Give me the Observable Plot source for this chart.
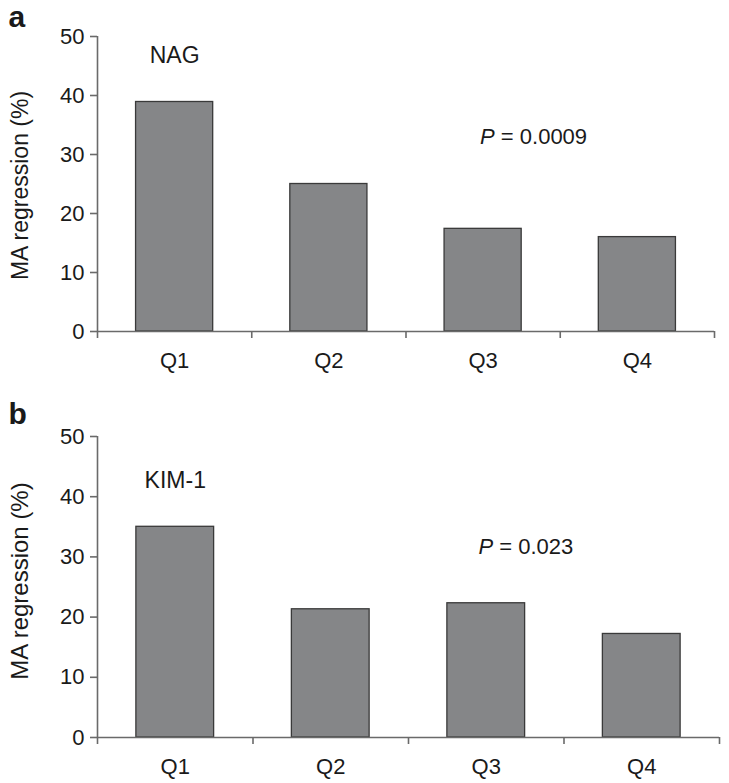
<!DOCTYPE html>
<html>
<head>
<meta charset="utf-8">
<script src="https://cdn.jsdelivr.net/npm/d3@7"></script>
<script src="https://cdn.jsdelivr.net/npm/@observablehq/plot@0.6"></script>
<style>
  html, body { margin: 0; padding: 0; background: #fff; }
  #wrap { position: relative; width: 729px; height: 783px; overflow: hidden; }
  .panel { position: absolute; left: 0; }
</style>
</head>
<body>
<div id="wrap">
  <div class="panel" id="pa" style="top:0px"></div>
  <div class="panel" id="pb" style="top:390px"></div>
</div>
<script>
// ---- data ----
const quartiles = ["Q1", "Q2", "Q3", "Q4"];
const nagValues = [38.9, 25.0, 17.4, 16.0];
const kimValues = [35.0, 21.3, 22.3, 17.2];
const yTicks = [0, 10, 20, 30, 40, 50];
const panelLetters = ["a", "b"];
const markerNames = ["NAG", "KIM-1"];
const pTexts = ["P = 0.0009", "P = 0.023"];
const yLabel = "MA regression (%)";

const FONT = "'Liberation Sans', Arial, Helvetica, sans-serif";

function panel(opts) {
  const rows = quartiles.map((q, i) => ({q, i, value: opts.values[i]}));
  const chart = Plot.plot({
    width: 729,
    height: opts.height,
    marginTop: opts.marginTop,
    marginBottom: opts.marginBottom,
    marginLeft: 97,
    marginRight: opts.marginRight,
    style: {fontFamily: FONT, fontSize: "22px", color: "#1a1a1a", background: "#fff", overflow: "visible"},
    x: {type: "linear", domain: [0, quartiles.length]},
    y: {domain: [0, 50]},
    marks: [
      Plot.rectY(rows, {
        x1: d => d.i + 0.25, x2: d => d.i + 0.75, y: "value",
        fill: "#858688", stroke: "#3a3a3a", strokeWidth: 1.3
      }),
      Plot.ruleX([0], {stroke: "#6a6a6a", strokeWidth: 1.6}),
      Plot.ruleY([0], {stroke: "#6a6a6a", strokeWidth: 1.6}),
      Plot.axisY({ticks: yTicks, tickSize: 7, tickPadding: 6, stroke: "#6a6a6a", strokeWidth: 1.6, label: null, fontSize: 22}),
      Plot.axisX({ticks: d3.range(quartiles.length + 1), tickSize: 7, tickFormat: () => "", stroke: "#6a6a6a", strokeWidth: 1.6, label: null}),
      Plot.axisX({ticks: quartiles.map((q, i) => i + 0.5), tickSize: 0, tickPadding: 21,
                  tickFormat: v => quartiles[Math.floor(v)], label: null, fontSize: 22}),
      Plot.text([markerNames[opts.k]], {x: 0.5, y: opts.markerY, lineAnchor: "bottom", fontSize: 23}),
      Plot.text([pTexts[opts.k]], {x: opts.pX, y: opts.pY, textAnchor: "start", lineAnchor: "bottom", fontSize: 22}),
      Plot.text([yLabel], {frameAnchor: "left", rotate: -90, textAnchor: "middle", lineAnchor: "middle",
                  dx: -77, dy: opts.labelDy, fontSize: opts.labelSize}),
      Plot.text([panelLetters[opts.k]], {frameAnchor: "top-left", dx: -89, dy: opts.letterDy, textAnchor: "start",
                  lineAnchor: "bottom", fontWeight: "bold", fontSize: 30})
    ]
  });
  // italic P
  d3.select(chart).selectAll("text").each(function() {
    const t = this.textContent;
    if (pTexts.includes(t)) {
      const rest = t.slice(1);
      this.textContent = "";
      d3.select(this).append("tspan").attr("font-style", "italic").text("P");
      d3.select(this).append("tspan").text(rest);
    }
  });
  return chart;
}

document.getElementById("pa").appendChild(panel({
  k: 0, values: nagValues, height: 380, marginTop: 36, marginBottom: 49, marginRight: 15,
  markerY: 45.5, pX: 2.48, pY: 31.8, labelDy: 1.5, labelSize: 23, letterDy: -10
}));
document.getElementById("pb").appendChild(panel({
  k: 1, values: kimValues, height: 393, marginTop: 46, marginBottom: 46, marginRight: 10,
  markerY: 41.5, pX: 2.45, pY: 30.4, labelDy: -6, labelSize: 24, letterDy: -13
}));
</script>
</body>
</html>
